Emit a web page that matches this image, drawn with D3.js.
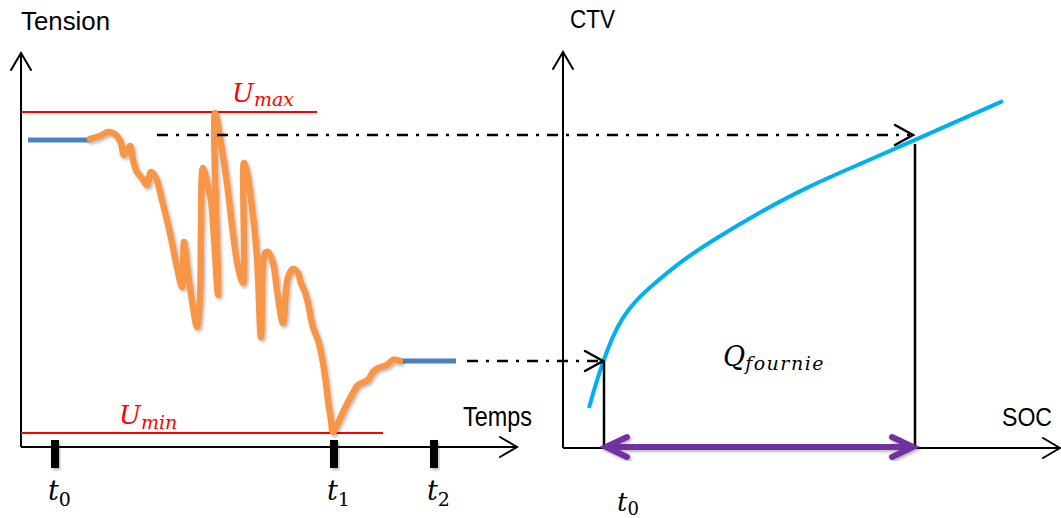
<!DOCTYPE html>
<html>
<head>
<meta charset="utf-8">
<script src="https://cdn.jsdelivr.net/npm/d3@7"></script>
<style>
  body { margin: 0; background: #fff; }
  svg { display: block; }
</style>
</head>
<body>
<div id="chart"></div>
<script>
var w = 1061, h = 518;

// left panel : tension vs temps (arbitrary units)
var blueStart = [[1.4, 76.75], [14, 76.75]];
var blueEnd = [[75.8, 21.5], [87, 21.5]];
var tension = [
  [13.8, 77], [15.8, 77.75], [17.4, 78.75], [19, 78], [20, 76], [20.6, 73],
  [21.8, 75.25], [22.4, 71.75], [23.2, 68.75], [24.2, 67.25], [25.2, 65.5],
  [26, 68.75], [27, 67.25], [28.2, 61.75], [29.8, 53.5], [31.2, 45], [32.2, 40],
  [32.6, 51.25], [33.4, 43.5], [34.4, 35], [35.2, 30], [35.8, 36.75], [36, 53.5],
  [36.4, 69.75], [37.4, 65], [38, 61.75], [39.4, 38], [38.8, 83.5], [40.2, 74.25],
  [41.2, 66], [42.4, 53.5], [43.4, 45], [44.4, 41], [44.6, 71], [45.2, 68.5],
  [46.2, 60], [47.2, 47.5], [48, 27.5], [48.8, 48.5], [49.4, 48.75], [50.4, 46],
  [51.4, 37.5], [52.4, 31], [53.4, 42.5], [54.4, 44.5], [55.4, 43.5], [56, 41],
  [56.8, 38.75], [57.4, 36], [58.4, 30], [59.4, 26.75], [60.2, 22.5], [61, 16],
  [61.4, 11.75], [62, 6.75], [62.4, 3.75], [63.4, 6], [64.8, 9.75], [66.4, 13.5],
  [67.4, 15.5], [69.4, 16.75], [70.4, 18.75], [71.4, 19.75], [73.2, 20.5],
  [74.4, 21.75], [75.8, 21.5]
];
var uMax = 83.75, uMaxEnd = 59.2;
var uMin = 3.5, uMinEnd = 72.4;
var tickNames = ['0', '1', '2'];
var tickTimes = [6.8, 62.6, 82.6];

// right panel : CTV vs SOC
var ctv = [
  [5.2, 10], [6.6, 16.25], [8, 21.5], [9.8, 27.5], [11.8, 32.5], [14.6, 37],
  [18.4, 41.25], [23.4, 46.5], [30, 52], [39.4, 59], [48.8, 65.25], [59.4, 71],
  [70.4, 77], [79.4, 82], [88, 86.75]
];
var socStart = 8.2, socEnd = 70.4;
var ctvStart = 21.5, ctvEnd = 77;

// dash-dot links
var linkTop = {from: 27.2, to: 70, v: 78};
var linkBottom = {from: 89.2, to: 8, v: 21.5};

var xL = d3.scaleLinear().domain([0, 99.2]).range([21, 517]);
var yL = d3.scaleLinear().domain([0, 98.5]).range([447, 53]);
var xR = d3.scaleLinear().domain([0, 99.4]).range([563, 1060]);
var yR = d3.scaleLinear().domain([0, 99]).range([448, 52]);

var svg = d3.select('#chart').append('svg')
  .attr('width', w)
  .attr('height', h);

var defs = svg.append('defs');
var f = defs.append('filter').attr('id', 'shadow')
  .attr('x', '-20%').attr('y', '-20%').attr('width', '140%').attr('height', '140%');
f.append('feDropShadow')
  .attr('dx', 1.5).attr('dy', 2).attr('stdDeviation', 1.5)
  .attr('flood-color', '#000').attr('flood-opacity', 0.28);

function arrowHead(g, x, y, dir, len, spread, color, sw) {
  var pts;
  if (dir == 'up') pts = [[x - spread, y + len], [x, y], [x + spread, y + len]];
  if (dir == 'right') pts = [[x - len, y - spread], [x, y], [x - len, y + spread]];
  if (dir == 'left') pts = [[x + len, y - spread], [x, y], [x + len, y + spread]];
  g.append('path')
    .attr('d', d3.line()(pts))
    .attr('fill', 'none')
    .attr('stroke', color)
    .attr('stroke-width', sw)
    .attr('stroke-linecap', 'round')
    .attr('stroke-linejoin', 'miter');
}

// ---------- left panel ----------
var left = svg.append('g');

left.append('line')
  .attr('x1', xL(0)).attr('y1', yL(0))
  .attr('x2', xL(0)).attr('y2', yL(98.5))
  .attr('stroke', '#000').attr('stroke-width', 2);
arrowHead(left, xL(0), yL(98.5), 'up', 17, 10, '#000', 2);

left.append('line')
  .attr('x1', xL(0)).attr('y1', yL(0))
  .attr('x2', xL(99.2)).attr('y2', yL(0))
  .attr('stroke', '#000').attr('stroke-width', 2);
arrowHead(left, xL(99.2), yL(0), 'right', 17, 10, '#000', 2);

// limits
left.append('line')
  .attr('x1', xL(0)).attr('x2', xL(uMaxEnd))
  .attr('y1', yL(uMax)).attr('y2', yL(uMax))
  .attr('stroke', '#ff0000').attr('stroke-width', 2);
left.append('line')
  .attr('x1', xL(0)).attr('x2', xL(uMinEnd))
  .attr('y1', yL(uMin)).attr('y2', yL(uMin))
  .attr('stroke', '#ff0000').attr('stroke-width', 2);

// ticks t0 t1 t2
left.selectAll('rect.tick')
  .data(tickTimes)
  .enter().append('rect')
  .attr('class', 'tick')
  .attr('x', function(d) { return xL(d) - 4; })
  .attr('y', yL(0) - 7)
  .attr('width', 8)
  .attr('height', 28)
  .attr('fill', '#000')
  .attr('filter', 'url(#shadow)');

var lineL = d3.line()
  .x(function(d) { return xL(d[0]); })
  .y(function(d) { return yL(d[1]); });

[blueStart, blueEnd].forEach(function(seg) {
  left.append('path')
    .attr('d', lineL(seg))
    .attr('fill', 'none')
    .attr('stroke', '#4f81bd')
    .attr('stroke-width', 5);
});

left.append('path')
  .attr('d', lineL.curve(d3.curveCatmullRom.alpha(0.5))(tension))
  .attr('fill', 'none')
  .attr('stroke', '#f79646')
  .attr('stroke-width', 6.5)
  .attr('stroke-linejoin', 'round')
  .attr('stroke-linecap', 'round')
  .attr('filter', 'url(#shadow)');

// ---------- right panel ----------
var right = svg.append('g');

right.append('line')
  .attr('x1', xR(0)).attr('y1', yR(0))
  .attr('x2', xR(0)).attr('y2', yR(99))
  .attr('stroke', '#000').attr('stroke-width', 2);
arrowHead(right, xR(0), yR(99), 'up', 17, 10, '#000', 2);

right.append('line')
  .attr('x1', xR(0)).attr('y1', yR(0))
  .attr('x2', xR(99.4)).attr('y2', yR(0))
  .attr('stroke', '#000').attr('stroke-width', 2);
arrowHead(right, xR(99.4), yR(0), 'right', 17, 10, '#000', 2);

right.append('path')
  .attr('d', d3.line()
    .x(function(d) { return xR(d[0]); })
    .y(function(d) { return yR(d[1]); })
    .curve(d3.curveBasis)(ctv))
  .attr('fill', 'none')
  .attr('stroke', '#00b0f0')
  .attr('stroke-width', 4);

right.append('line')
  .attr('x1', xR(socStart)).attr('x2', xR(socStart))
  .attr('y1', yR(ctvStart)).attr('y2', yR(0))
  .attr('stroke', '#000').attr('stroke-width', 2.5);
right.append('line')
  .attr('x1', xR(socEnd)).attr('x2', xR(socEnd))
  .attr('y1', yR(ctvEnd) + 4).attr('y2', yR(0))
  .attr('stroke', '#000').attr('stroke-width', 2.5);

// Q fournie double arrow
var purple = right.append('g').attr('filter', 'url(#shadow)');
purple.append('line')
  .attr('x1', xR(socStart) + 3).attr('x2', xR(socEnd) - 3)
  .attr('y1', yR(0) - 1).attr('y2', yR(0) - 1)
  .attr('stroke', '#7030a0').attr('stroke-width', 6);
arrowHead(purple, xR(socStart) + 2, yR(0) - 1, 'left', 21, 10, '#7030a0', 6);
arrowHead(purple, xR(socEnd) - 2, yR(0) - 1, 'right', 21, 10, '#7030a0', 6);

// ---------- dash-dot links ----------
[linkTop, linkBottom].forEach(function(l) {
  var y = yL(l.v);
  svg.append('line')
    .attr('x1', xL(l.from)).attr('x2', xR(l.to) - 3)
    .attr('y1', y).attr('y2', y)
    .attr('stroke', '#000')
    .attr('stroke-width', 2.5)
    .attr('stroke-dasharray', '11,8,3,8');
  arrowHead(svg, xR(l.to), y, 'right', 18, 10, '#000', 2.5);
});

// ---------- texts ----------
function label(x, y, txt, size, len) {
  var t = svg.append('text')
    .attr('x', x).attr('y', y)
    .attr('font-family', 'Liberation Sans, Arial, sans-serif')
    .attr('font-size', size)
    .attr('fill', '#000')
    .text(txt);
  if (len) t.attr('textLength', len).attr('lengthAdjust', 'spacingAndGlyphs');
}
label(21, 30, 'Tension', 25, 89);
label(570, 28, 'CTV', 25, 45);
label(463, 426, 'Temps', 27, 69);
label(1002, 426, 'SOC', 26, 50);

function mathLabel(x, y, main, sub, color, size, subSize, dy, spacing) {
  var t = svg.append('text')
    .attr('x', x).attr('y', y)
    .attr('font-family', 'DejaVu Serif, serif')
    .attr('font-style', 'italic')
    .attr('font-size', size)
    .attr('fill', color);
  t.append('tspan').text(main);
  t.append('tspan')
    .attr('dy', dy)
    .attr('font-size', subSize)
    .attr('font-style', /[0-9]/.test(sub) ? 'normal' : 'italic')
    .attr('letter-spacing', spacing || 0)
    .text(sub);
}
mathLabel(232, 102, 'U', 'max', '#ff0000', 26, 19, 4);
mathLabel(119, 424, 'U', 'min', '#ff0000', 26, 19, 5);
mathLabel(723, 366, 'Q', 'fournie', '#000', 27, 19, 4, 1.5);

tickTimes.forEach(function(d, i) {
  mathLabel(xL(d) - 7, 500, 't', tickNames[i], '#000', 27, 19, 6);
});
mathLabel(xR(socStart) + 13, 511, 't', '0', '#000', 26, 18, 4);
</script>
</body>
</html>
